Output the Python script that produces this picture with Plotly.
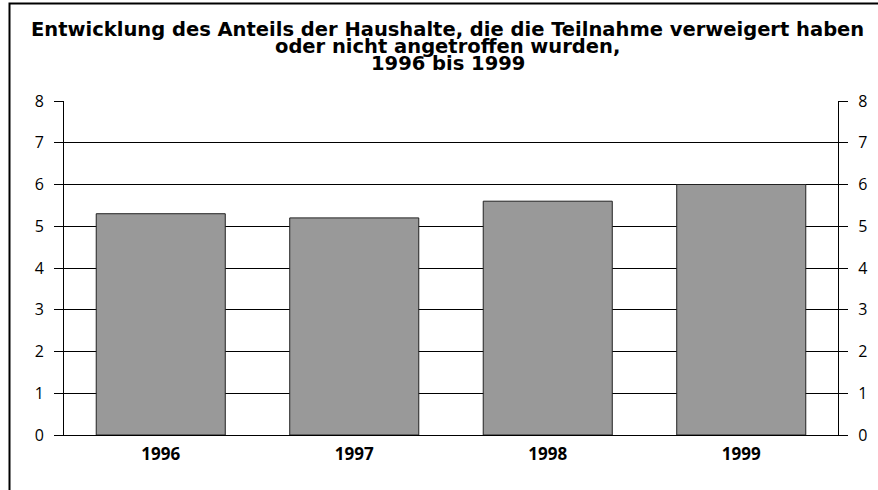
import plotly.graph_objects as go

years = ["1996", "1997", "1998", "1999"]
values = [5.3, 5.2, 5.6, 6.0]
y_ticks = [0, 1, 2, 3, 4, 5, 6, 7, 8]
title_lines = [
    "Entwicklung des Anteils der Haushalte, die die Teilnahme verweigert haben",
    "oder nicht angetroffen wurden,",
    "1996 bis 1999",
]

W, H = 878, 490
L, R, T, B = 64, 838, 101, 435
FONT = "Open Sans"
TITLE_FONT = "DejaVu Sans"

fig = go.Figure()
fig.add_trace(go.Bar(
    x=years, y=values,
    marker=dict(color="#999999", line=dict(color="#222222", width=1)),
    width=0.667, hoverinfo="skip",
))
fig.add_trace(go.Scatter(x=years, y=values, yaxis="y2", mode="markers",
                         marker=dict(opacity=0), hoverinfo="skip", showlegend=False))

def px_x(px):
    return (px - L) / (R - L)

def px_y(py):
    return (B - py) / (B - T)

shapes = [dict(type="rect", xref="paper", yref="paper",
               x0=px_x(9.5), x1=px_x(884), y0=px_y(3.5), y1=px_y(500),
               line=dict(color="black", width=2), fillcolor="rgba(0,0,0,0)", layer="above")]

annotations = []
title_y = [29, 46.5, 63.5]
for line, py in zip(title_lines, title_y):
    annotations.append(dict(text="<b>" + line + "</b>", xref="paper", yref="paper",
                            x=px_x(447.5), y=px_y(py), xanchor="center", yanchor="middle",
                            showarrow=False, font=dict(family=TITLE_FONT, size=19.5, color="black")))

axis_common = dict(range=[0, 8], tickvals=y_ticks, ticks="outside", ticklen=9,
                   tickcolor="black", tickwidth=1, showline=True, linecolor="black",
                   linewidth=1, tickfont=dict(family=FONT, size=16, color="black"),
                   zeroline=False, ticklabelstandoff=7)

fig.update_layout(
    width=W, height=H,
    margin=dict(l=L, r=W - R, t=T, b=H - B),
    paper_bgcolor="white", plot_bgcolor="white",
    showlegend=False,
    bargap=0.333,
    xaxis=dict(showline=True, linecolor="black", linewidth=1, ticks="",
               tickfont=dict(family=FONT, size=17, color="black", weight="bold"),
               showgrid=False, zeroline=False, ticklabelstandoff=4),
    yaxis=dict(**axis_common, showgrid=True, gridcolor="black", gridwidth=1, side="left"),
    yaxis2=dict(**axis_common, overlaying="y", side="right", showgrid=False),
    shapes=shapes,
    annotations=annotations,
)

fig.write_html("out.html", config={"displayModeBar": False},
               post_script="document.body.style.margin='0';")
